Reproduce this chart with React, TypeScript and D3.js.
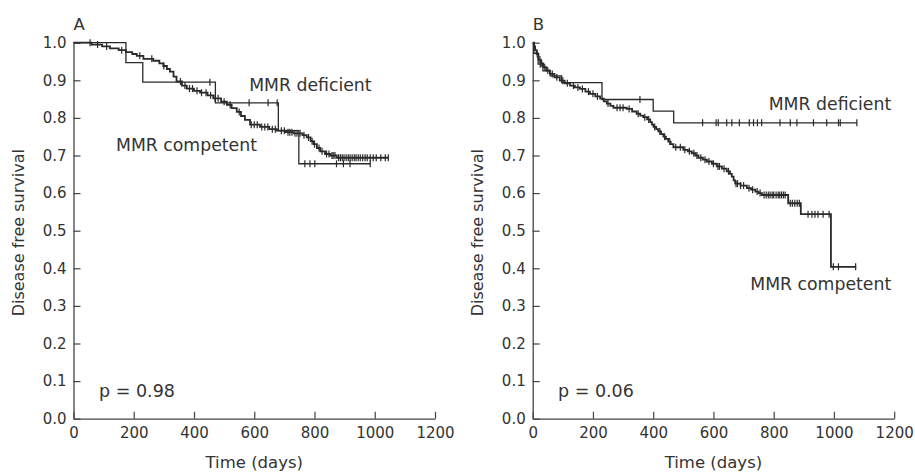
import React, { useEffect, useRef } from "react";
import * as d3 from "d3";

// ---------- data ----------
const xTicks = [0, 200, 400, 600, 800, 1000, 1200];
const yTicks = [0, 0.1, 0.2, 0.3, 0.4, 0.5, 0.6, 0.7, 0.8, 0.9, 1.0];

// Panel A, MMR deficient
const aDefTime = [0, 174, 230, 471, 680, 748];
const aDefSurv = [1.0, 0.947, 0.895, 0.84, 0.766, 0.678];
const aDefCensor = [453, 583, 646, 676, 768, 785, 801, 873, 896, 918, 985];
const aDefEnd = 985;

// Panel A, MMR competent
const aComTime = [0, 60, 95, 121, 150, 174, 195, 210, 232, 265, 285, 298, 310, 320, 332, 342, 360, 376, 400, 420, 445, 464, 490, 509, 525, 542, 556, 569, 586, 619, 650, 675, 705, 730, 760, 774, 787, 797, 808, 819, 835, 852, 874];
const aComSurv = [1.0, 0.995, 0.99, 0.985, 0.98, 0.975, 0.97, 0.965, 0.957, 0.952, 0.945, 0.938, 0.93, 0.923, 0.91, 0.897, 0.886, 0.878, 0.872, 0.867, 0.86, 0.852, 0.843, 0.835, 0.826, 0.816, 0.805, 0.795, 0.782, 0.776, 0.77, 0.766, 0.762, 0.759, 0.754, 0.748, 0.738, 0.73, 0.72, 0.711, 0.704, 0.7, 0.694];
const aComCensor = [55, 80, 110, 160, 220, 260, 300, 355, 370, 385, 395, 410, 425, 440, 455, 470, 480, 500, 520, 550, 590, 600, 610, 625, 635, 645, 660, 670, 690, 700, 712, 718, 725, 735, 742, 752, 765, 780, 792, 800, 815, 825, 840, 848, 858, 862, 868, 880, 886, 892, 898, 905, 912, 918, 925, 932, 938, 945, 952, 960, 968, 975, 985, 995, 1005, 1020, 1035, 1045];
const aComEnd = 1045;

// Panel B, MMR deficient
const bDefTime = [0, 4, 18, 34, 58, 96, 230, 400, 468];
const bDefSurv = [1.0, 0.972, 0.943, 0.925, 0.912, 0.894, 0.849, 0.818, 0.787];
const bDefCensor = [25, 356, 564, 609, 616, 644, 661, 686, 719, 733, 746, 760, 821, 855, 877, 932, 976, 1015, 1021, 1076];
const bDefEnd = 1076;

// Panel B, MMR competent
const bComTime = [0, 4, 8, 13, 19, 27, 35, 45, 57, 72, 90, 106, 124, 140, 157, 175, 190, 208, 224, 236, 246, 258, 268, 312, 330, 345, 357, 367, 380, 390, 396, 401, 410, 417, 426, 434, 442, 450, 458, 467, 500, 515, 528, 540, 550, 565, 578, 595, 611, 628, 644, 655, 661, 667, 672, 690, 711, 725, 739, 750, 761, 848, 890, 990];
const bComSurv = [1.0, 0.99, 0.98, 0.97, 0.955, 0.945, 0.935, 0.926, 0.917, 0.908, 0.899, 0.892, 0.886, 0.881, 0.877, 0.87, 0.864, 0.857, 0.851, 0.844, 0.838, 0.832, 0.827, 0.824, 0.817, 0.811, 0.806, 0.802, 0.796, 0.789, 0.782, 0.776, 0.77, 0.764, 0.757, 0.75, 0.744, 0.737, 0.73, 0.722, 0.715, 0.711, 0.706, 0.7, 0.694, 0.689, 0.684, 0.678, 0.671, 0.665, 0.658, 0.651, 0.644, 0.634, 0.625, 0.62, 0.613, 0.609, 0.604, 0.6, 0.595, 0.573, 0.544, 0.404];
const bComCensor = [5, 15, 24, 30, 40, 50, 65, 80, 100, 115, 135, 150, 165, 185, 200, 215, 250, 280, 290, 300, 320, 350, 372, 385, 405, 422, 438, 455, 475, 490, 505, 520, 535, 545, 558, 572, 585, 600, 615, 620, 635, 650, 675, 680, 690, 700, 718, 730, 745, 755, 768, 775, 782, 788, 795, 800, 808, 815, 820, 826, 832, 838, 855, 862, 870, 878, 885, 914, 927, 937, 947, 964, 984, 998, 1015, 1072];
const bComEnd = 1074;

const FONT = "'DejaVu Sans', sans-serif";
const INK = "#2a2a2a";

function drawPanel(svg, opts) {
  const x = d3.scaleLinear().domain([0, 1200]).range([opts.x0, opts.x0 + 361.5]);
  const y = d3.scaleLinear().domain([0, 1]).range([418.7, 42.7]);

  const g = svg.append("g");

  // x axis, ticks pointing inward (up)
  const xAxis = g
    .append("g")
    .attr("transform", "translate(0," + y(0) + ")")
    .call(d3.axisBottom(x).tickValues(xTicks).tickSizeInner(-7).tickSizeOuter(0).tickPadding(9).tickFormat(d3.format("d")));

  // y axis, ticks pointing inward (right)
  const yAxis = g
    .append("g")
    .attr("transform", "translate(" + x(0) + ",0)")
    .call(d3.axisLeft(y).tickValues(yTicks).tickSizeInner(-7).tickSizeOuter(0).tickPadding(7).tickFormat(d3.format(".1f")));

  [xAxis, yAxis].forEach(ax => {
    ax.attr("font-family", FONT).attr("font-size", 15);
    ax.selectAll("path").attr("stroke", "#444").attr("stroke-width", 1.3);
    ax.selectAll("line").attr("stroke", "#444").attr("stroke-width", 1.2);
    ax.selectAll("text").attr("fill", "#333");
  });

  // step curves
  const line = d3
    .line()
    .x(d => x(d[0]))
    .y(d => y(d[1]))
    .curve(d3.curveStepAfter);

  opts.series.forEach(s => {
    const pts = s.time.map((t, i) => [t, s.surv[i]]);
    pts.push([s.end, s.surv[s.surv.length - 1]]);
    g.append("path")
      .attr("d", line(pts))
      .attr("fill", "none")
      .attr("stroke", INK)
      .attr("stroke-width", s.width);

    const bis = d3.bisector(d => d).right;
    g.selectAll(null)
      .data(s.censor)
      .enter()
      .append("line")
      .attr("x1", d => x(d))
      .attr("x2", d => x(d))
      .attr("y1", d => y(s.surv[bis(s.time, d) - 1]) - 3.5)
      .attr("y2", d => y(s.surv[bis(s.time, d) - 1]) + 3.5)
      .attr("stroke", INK)
      .attr("stroke-width", 1.2);
  });

  // panel letter
  g.append("text")
    .attr("x", x(0))
    .attr("y", 30)
    .attr("font-family", FONT)
    .attr("font-size", 16.5)
    .attr("fill", "#333")
    .text(opts.letter);

  // axis titles
  g.append("text")
    .attr("x", (x(0) + x(1200)) / 2)
    .attr("y", 468)
    .attr("text-anchor", "middle")
    .attr("font-family", FONT)
    .attr("font-size", 16.5)
    .attr("fill", "#333")
    .text("Time (days)");

  g.append("text")
    .attr("transform", "translate(" + (x(0) - 49.5) + "," + (y(0.5) + 2) + ") rotate(-90)")
    .attr("text-anchor", "middle")
    .attr("font-family", FONT)
    .attr("font-size", 16)
    .attr("fill", "#333")
    .text("Disease free survival");

  // annotations
  opts.notes.forEach(n => {
    g.append("text")
      .attr("x", x(n.t))
      .attr("y", y(n.s))
      .attr("text-anchor", n.anchor)
      .attr("font-family", FONT)
      .attr("font-size", n.size)
      .attr("fill", "#333")
      .text(n.text);
  });
}

export default function App() {
  const ref = useRef(null);

  useEffect(() => {
    const svg = d3.select(ref.current);
    svg.selectAll("*").remove();

    drawPanel(svg, {
      x0: 73.5,
      letter: "A",
      series: [
        { time: aDefTime, surv: aDefSurv, censor: aDefCensor, end: aDefEnd, width: 1.3 },
        { time: aComTime, surv: aComSurv, censor: aComCensor, end: aComEnd, width: 1.8 },
      ],
      notes: [
        { text: "MMR deficient", t: 583, s: 0.871, anchor: "start", size: 17.3 },
        { text: "MMR competent", t: 141, s: 0.712, anchor: "start", size: 17.3 },
        { text: "p = 0.98", t: 85, s: 0.058, anchor: "start", size: 17.5 },
      ],
    });

    drawPanel(svg, {
      x0: 532.7,
      letter: "B",
      series: [
        { time: bDefTime, surv: bDefSurv, censor: bDefCensor, end: bDefEnd, width: 1.3 },
        { time: bComTime, surv: bComSurv, censor: bComCensor, end: bComEnd, width: 1.8 },
      ],
      notes: [
        { text: "MMR deficient", t: 1190, s: 0.821, anchor: "end", size: 17.3 },
        { text: "MMR competent", t: 1190, s: 0.342, anchor: "end", size: 17.3 },
        { text: "p = 0.06", t: 84, s: 0.058, anchor: "start", size: 17.5 },
      ],
    });
  }, []);

  return (
    <svg
      ref={ref}
      width={915}
      height={473}
      style={{ position: "absolute", left: 0, top: 0, background: "#fff" }}
    />
  );
}
